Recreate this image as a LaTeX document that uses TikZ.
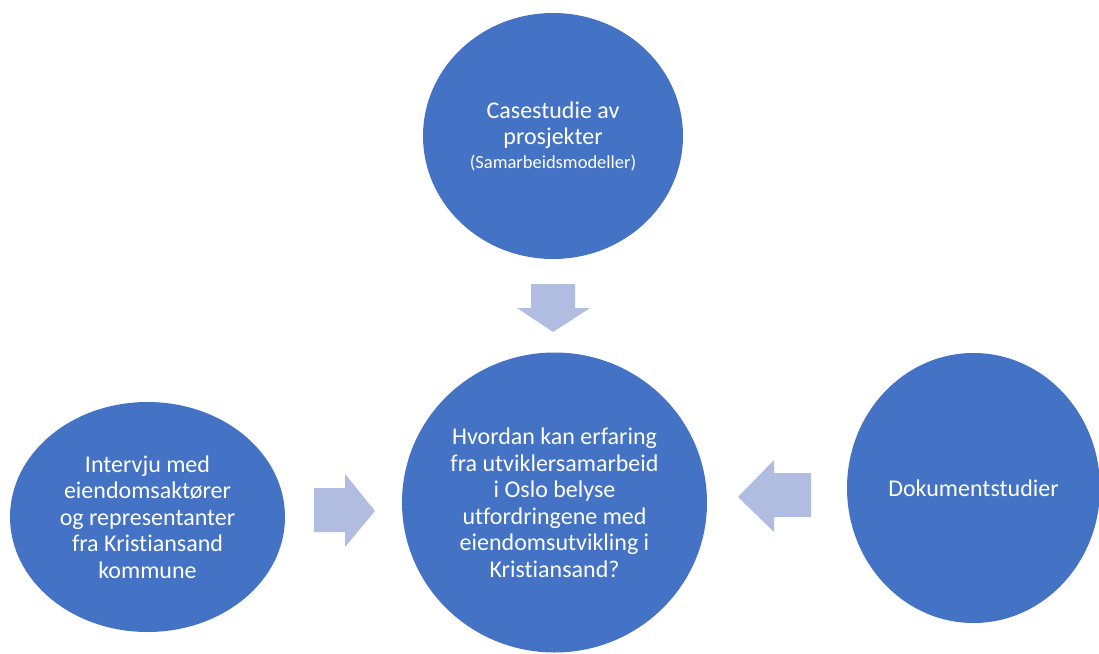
\documentclass[tikz,border=0pt]{standalone}
\usepackage{fontspec}
\setmainfont{Carlito}[Ligatures=NoCommon]
\usetikzlibrary{shapes.geometric}
\definecolor{bubble}{HTML}{4472C4}
\definecolor{pointer}{HTML}{B0BDE1}
\begin{document}
\begin{tikzpicture}[x=1pt,y=-1pt,
  bubbletext/.style={ellipse, fill=bubble, draw=none, inner sep=0pt,
    text=white, align=center, font=\fontsize{24pt}{26.5pt}\selectfont},
  blockarrow/.style={fill=pointer, draw=none}]
\useasboundingbox (0,0) rectangle (1099,653);

% method bubbles around the research question
\node[bubbletext, minimum width=260pt, minimum height=246pt] (case) at (553,136)
  {Casestudie av\\prosjekter\\[-3pt]{\fontsize{18.5pt}{20pt}\selectfont (Samarbeidsmodeller)}};
\node[bubbletext, minimum width=305pt, minimum height=300pt] (question) at (554.5,502.5)
  {Hvordan kan erfaring\\fra utviklersamarbeid\\i Oslo belyse\\utfordringene med\\eiendomsutvikling i\\Kristiansand?};
\node[bubbletext, minimum width=275pt, minimum height=230pt] (interview) at (147.5,517)
  {Intervju med\\eiendomsaktører\\og representanter\\fra Kristiansand\\kommune};
\node[bubbletext, minimum width=253pt, minimum height=270pt] (docs) at (973.5,488)
  {Dokumentstudier};

% block arrows pointing into the question
\fill[blockarrow] (531,284) -- (575,284) -- (575,308) -- (590,308) -- (553,332)
  -- (517,308) -- (531,308) -- cycle;
\fill[blockarrow] (314,488) -- (345,488) -- (345,474) -- (375,511) -- (345,547)
  -- (345,532) -- (314,532) -- cycle;
\fill[blockarrow] (811,473) -- (774,473) -- (774,460) -- (738,497) -- (774,532)
  -- (774,517) -- (811,517) -- cycle;
\end{tikzpicture}
\end{document}
